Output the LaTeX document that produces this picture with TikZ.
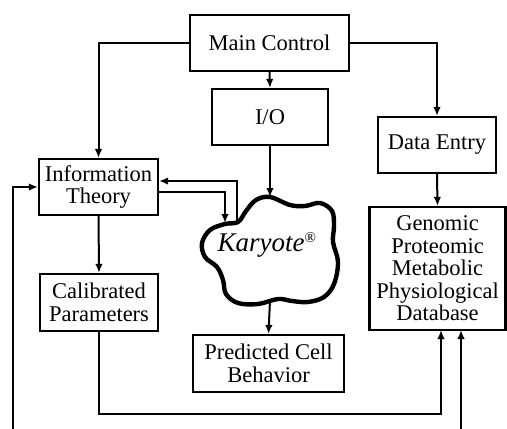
\documentclass[tikz,border=0pt]{standalone}
\usepackage{fontspec}
\setmainfont{Liberation Serif}
\usetikzlibrary{arrows.meta,calc}
\tikzset{
  box/.style={draw, line width=2.2pt, inner sep=0pt, align=center,
    font=\fontsize{22.5}{22.5}\selectfont},
  conn/.style={line width=2pt, -{Latex[length=9pt,width=7.5pt]}},
  cloudline/.style={line width=4.4pt, line join=round},
}
\begin{document}
\begin{tikzpicture}[x=1pt,y=-1pt]
\useasboundingbox (0,0) rectangle (507,429);
\node[box, minimum width=159pt, minimum height=56pt] (main) at (269.5,43) {Main Control};
\node[box, minimum width=116pt, minimum height=56pt] (io) at (270,117) {I/O};
\node[box, minimum width=118pt, minimum height=56pt] (data) at (437,145) {Data Entry};
\node[box, minimum width=119pt, minimum height=56pt] (info) at (98.5,187) {Information\\Theory};
\node[box, minimum width=118pt, minimum height=57pt] (calib) at (99,302.5) {Calibrated\\Parameters};
\node[box, minimum width=151pt, minimum height=57pt] (pred) at (268.5,363.5) {Predicted Cell\\Behavior};
\node[box, minimum width=136pt, minimum height=123pt] (geno) at (437.5,268.5) {Genomic\\Proteomic\\Metabolic\\Physiological\\Database};
% cloud
\draw[cloudline] plot[smooth cycle, tension=0.6] coordinates {
  (270,197) (290,205) (305,206) (320,203) (332,211) (334,226) (333,242)
  (338,262) (334,284) (324,297) (308,302) (292,301) (278,299) (258,304)
  (238,303) (226,294) (223,280) (217,267) (205,257) (202,243) (210,230)
  (225,224) (238,222) (246,211) (256,200)};
\node[font=\fontsize{27}{27}\selectfont\itshape] (kar) at (267,245) {Karyote\textsuperscript{\normalfont\fontsize{15}{15}\selectfont ®}};
\coordinate (ktop) at (270,197);
\coordinate (kbot) at (270,300);
\coordinate (kin) at (225,223);
\coordinate (kout) at (237,222);
\coordinate (g1) at (441,330);
\coordinate (g2) at (461,330);
\coordinate (b1) at (13,429);
\coordinate (b2) at (461,429);
% connectors
\draw[conn] (main.south) -- (io.north);
\draw[conn] (main.west) -| (info.north);
\draw[conn] (main.east) -| (data.north);
\draw[conn] (data.south) -- (geno.north);
\draw[conn] (io.south) -- (ktop);
\draw[conn] ($(info.east)+(0,5)$) -| (kin);
\draw[conn] (kout) |- ($(info.east)+(0,-6)$);
\draw[conn] (info.south) -- (calib.north);
\draw[conn] (kbot) -- (pred.north);
\draw[conn] (calib.south) -- ++(0,82) -| (g1);
\draw[conn] (b2) -- (g2);
\draw[conn] (b1) |- (info.west);
\end{tikzpicture}
\end{document}
